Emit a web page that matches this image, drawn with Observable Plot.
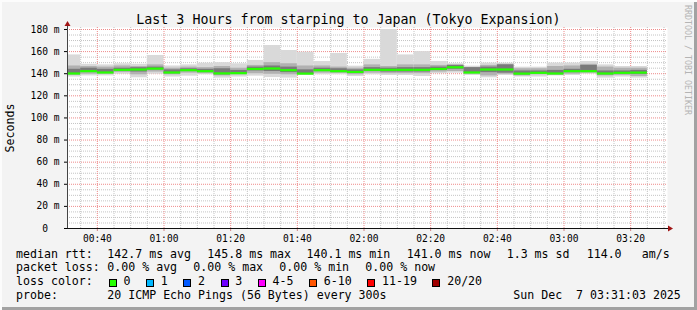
<!DOCTYPE html>
<html><head><meta charset="utf-8">
<script src="https://cdn.jsdelivr.net/npm/d3@7"></script>
<script src="https://cdn.jsdelivr.net/npm/@observablehq/plot@0.6"></script>
<style>
html,body{margin:0;padding:0;background:#f3f3f3;}
#c{position:relative;width:697px;height:310px;background:#f3f3f3;overflow:hidden;font-family:"DejaVu Sans Mono",monospace;color:#000;box-shadow:inset 2px 2px 0 #fcfcfc, inset -3px -3px 0 #a2a2a2;}
.t{position:absolute;white-space:pre;line-height:1;}
.lg{font-size:11.6px;}
.sq{position:absolute;width:6px;height:6px;border:1px solid #000;}
#chart{position:absolute;left:0;top:0;}
#chart svg{overflow:visible;}
</style></head>
<body><div id="c"><div id="chart"></div></div>
<script>
// ---- data ----
const title = "Last 3 Hours from starping to Japan (Tokyo Expansion)";
const yLabel = "Seconds";
const yTicks = [0, 20, 40, 60, 80, 100, 120, 140, 160, 180];
const firstBarStart = "2025-12-07T00:30:00Z";
const stepMinutes = 5;
const median  = [140.2,142.3,141.1,143.5,143.8,144.6,141.1,143.2,142.3,140.3,140.5,144.3,144.7,143.2,140.1,143.2,142.3,141.6,143.5,143.5,143.5,143.5,144.3,145.8,141.1,143.8,143.8,140.1,140.8,140.2,142.3,142.3,140.2,140.8,141.0];
const smokeMax = [157,148.5,148,149,148.5,156.5,147,148,149.5,150,149,152,165.5,161,159.5,151,158.3,146.8,153,180,157,160,151,149,146.8,149.6,149.5,145.9,145.9,149.6,149.6,151,148,146.5,146.5];
const smokeHi  = [147,146.5,146,147,146.5,148,145,146,145.5,146.5,145,147.5,150,149,147,147,146,145,148,146.5,148,148,147.5,148,145.5,147.5,148.5,144.5,144.5,146.5,147,148.5,146,145,145];
const coreHi   = [144,145,144,145,145.5,146,143.5,144.5,144,144.5,143,146,147,146,143.5,145,144.5,143.5,145.5,145,145.5,145.5,146,147.5,145.5,146,148,142.5,142.5,143,144,147.5,142.5,142.5,143];
const coreLo   = [139.5,141.5,140.5,142.5,141.5,143.5,140,142,141.5,139,140,142.5,142,141,139.5,142,141,140.5,142,141.5,141.5,141.5,143,144,141,141,140.5,139,140,139.5,141,141.5,139,140,139.5];
const smokeLo  = [138.5,139.5,139.5,141,139,141.5,139,140.5,140,138,139,140,139.5,139,139,140.5,140.5,139,140.5,140,140,140,141.5,142,139.5,138,139.5,138,139,138.5,139.5,140.5,138,138.5,137.5];
const smokeMin = [137,138,138,139.5,136.3,139.5,137,137.8,139,136,137,137.8,136.5,136,138.4,139,139,137.5,139,138.4,138.4,137.5,140,140.5,138.4,136.3,138.4,137,137,138,138.4,139.5,136,137,136];
const rttLabel = "median rtt:";
const rttStats = ["142.7 ms avg","145.8 ms max","140.1 ms min","141.0 ms now","1.3 ms sd","114.0","am/s"];
const lossLabel = "packet loss:";
const lossStats = ["0.00 % avg","0.00 % max","0.00 % min","0.00 % now"];
const lossColorLabel = "loss color:";
const lossLabels = ["0","1","2","3","4-5","6-10","11-19","20/20"];
const lossColors = ["#26ff00","#00b8ff","#0059ff","#6e00ff","#ff00ff","#ff5500","#ff0000","#a00000"];
const probeLabel = "probe:";
const probeText = "20 ICMP Echo Pings (56 Bytes) every 300s";
const stamp = "Sun Dec  7 03:31:03 2025";
const sideText = "RRDTOOL / TOBI OETIKER";

// ---- build ----
const xStart = new Date(Date.UTC(2025,11,7,0,31,3));
const xEnd = new Date(Date.UTC(2025,11,7,3,31,3));
const b0 = new Date(firstBarStart);
const bars = median.map((m, i) => ({
  t0: d3.utcMinute.offset(b0, stepMinutes*i),
  t1: d3.utcMinute.offset(b0, stepMinutes*(i+1)),
  median: m, max: smokeMax[i], hi: smokeHi[i], chi: coreHi[i], clo: coreLo[i], lo: smokeLo[i], min: smokeMin[i]
}));
const majorX = d3.utcMinute.every(20).range(xStart, xEnd);
const minorX = d3.utcMinute.every(5).range(xStart, xEnd).filter(d => d.getUTCMinutes() % 20 !== 0);
const majorY = yTicks.filter(v => v > 0);
const minorY = d3.range(5, 181, 5).filter(v => v % 20 !== 0);
const dots = {strokeOpacity: 1, strokeDasharray: "1,1"};

const plot = Plot.plot({
  width: 697, height: 310,
  marginLeft: 67, marginRight: 30, marginTop: 27, marginBottom: 82,
  style: {background: "transparent", fontFamily: "DejaVu Sans Mono", fontSize: "9.6px", color: "#000"},
  x: {type: "utc", domain: [xStart, xEnd]},
  y: {domain: [0, 181.8]},
  marks: [
    Plot.frame({fill: "white", stroke: null}),
    Plot.gridX(minorX, {stroke: "#c4c4c4", ...dots}),
    Plot.gridY(minorY, {stroke: "#c4c4c4", ...dots}),
    Plot.gridX(majorX, {stroke: "#ee8a8a", ...dots}),
    Plot.gridY(majorY, {stroke: "#ee8a8a", ...dots}),
    Plot.rect(bars, {x1: "t0", x2: "t1", y1: "min", y2: "max", fill: "#d9d9d9", clip: true}),
    Plot.rect(bars, {x1: "t0", x2: "t1", y1: "lo", y2: "hi", fill: "#b1b1b1", clip: true}),
    Plot.rect(bars, {x1: "t0", x2: "t1", y1: "clo", y2: "chi", fill: "#7a7a7a", clip: true}),
    Plot.ruleY(bars, {x1: "t0", x2: "t1", y: "median", stroke: "#26ff00", strokeWidth: 2.2, clip: true}),
    Plot.axisY({ticks: yTicks, tickFormat: d => d === 0 ? "0\u00a0\u00a0" : d + " m", tickSize: 3, tickPadding: 5, label: null}),
    Plot.axisX({ticks: majorX, tickFormat: d3.utcFormat("%H:%M"), tickSize: 3, tickPadding: 4, label: null, stroke: "#d08080"}),
    Plot.ruleY([0], {stroke: "#111", insetRight: -4}),
    Plot.ruleX([xStart], {stroke: "#444", insetTop: -4})
  ]
});
document.getElementById("chart").appendChild(plot);

// ---- overlay text ----
const c = document.getElementById("c");
function txt(s, x, y, cls, extra) {
  const d = document.createElement("div");
  d.className = "t " + (cls || "");
  d.textContent = s;
  d.style.left = x + "px"; d.style.top = y + "px";
  if (extra) Object.assign(d.style, extra);
  c.appendChild(d);
  return d;
}
txt(title, 0, 12.7, "", {width: "697px", textAlign: "center", fontSize: "13.3px"});
txt(yLabel, 11, 128, "", {fontSize: "11.6px", transform: "translate(-50%,-50%) rotate(-90deg)"});
txt(sideText, 683.5, 5, "", {fontSize: "8.3px", color: "#b4b4b4", writingMode: "vertical-rl", lineHeight: "8px"});

const cw = 6.98;
const rows = [248.7, 262.2, 275.9, 289.6];
txt(rttLabel, 16, rows[0], "lg");
[107.3, 207.3, 306.5, 406.7, 506.7, 586.7, 641.7].forEach((x, i) => txt(rttStats[i], x, rows[0], "lg"));
txt(lossLabel, 16, rows[1], "lg");
lossStats.forEach((s, i) => txt(s, 107.3 + 86 * i, rows[1], "lg"));
txt(lossColorLabel, 16, rows[2], "lg");
let lx = 108.7;
lossLabels.forEach((s, i) => {
  const q = document.createElement("div");
  q.className = "sq";
  q.style.left = lx + "px"; q.style.top = "279px"; q.style.background = lossColors[i];
  c.appendChild(q);
  txt(s, lx + 14.7, rows[2], "lg");
  lx = lx + 14.7 + s.length * cw + 15.6;
});
txt(probeLabel, 16, rows[3], "lg");
txt(probeText, 107.3, rows[3], "lg");
txt(stamp, 513.3, rows[3], "lg");

// axis arrows
const ns = "http://www.w3.org/2000/svg";
const ov = document.createElementNS(ns, "svg");
ov.setAttribute("width", 697); ov.setAttribute("height", 310);
ov.style.position = "absolute"; ov.style.left = "0"; ov.style.top = "0";
ov.innerHTML = '<polygon points="64.5,26 70.5,26 67.5,21" fill="#a01414"/><polygon points="668,225.5 668,231.5 673,228.5" fill="#a01414"/>';
c.appendChild(ov);
</script>
</body></html>
